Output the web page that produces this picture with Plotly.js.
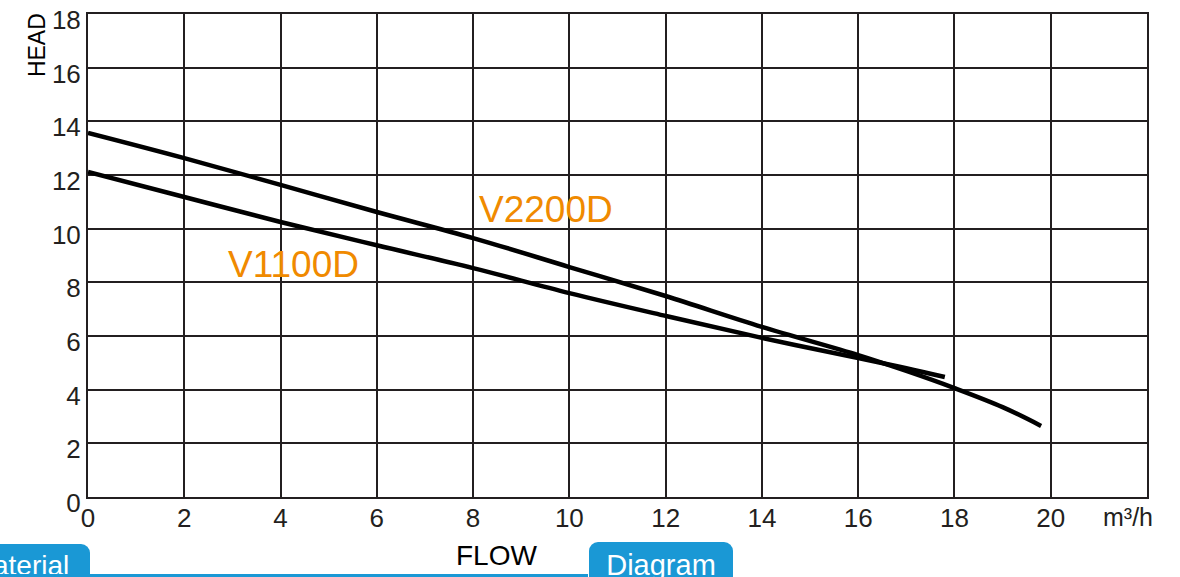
<!DOCTYPE html>
<html>
<head>
<meta charset="utf-8">
<script src="https://cdn.plot.ly/plotly-3.0.1.min.js"></script>
<style>
html,body{margin:0;padding:0;background:#fff;}
#chart{width:1180px;height:577px;position:relative;}
.tab{position:absolute;background:#1a98d5;color:#fff;font-family:"Liberation Sans",Arial,sans-serif;box-sizing:border-box;overflow:hidden;white-space:nowrap;}
</style>
</head>
<body>
<div style="position:relative;width:1180px;height:577px;overflow:hidden;">
<div id="chart"></div>
<div class="tab" style="left:-10px;top:544px;width:100px;height:40px;padding-left:3px;line-height:44px;font-size:28px;border-radius:0 9px 0 0;">aterial</div>
<div style="position:absolute;left:0;top:574px;width:588px;height:3px;background:#1a98d5;"></div>
<div class="tab" style="left:589px;top:542px;width:144px;height:40px;border-radius:9px 9px 0 0;text-align:center;line-height:46px;font-size:29px;">Diagram</div>
</div>
<script>
// V2200D curve
var flowV2200 = [0, 2, 4, 6, 8, 10, 12, 14, 16, 17, 18, 19, 19.8];
var headV2200 = [13.57, 12.63, 11.63, 10.62, 9.65, 8.57, 7.49, 6.34, 5.29, 4.7, 4.06, 3.35, 2.65];
// V1100D curve
var flowV1100 = [0, 2, 4, 6, 8, 10, 12, 14, 16, 17, 17.8];
var headV1100 = [12.11, 11.18, 10.25, 9.38, 8.53, 7.6, 6.75, 5.93, 5.18, 4.8, 4.47];
var xTicks = [0, 2, 4, 6, 8, 10, 12, 14, 16, 18, 20];
var yTicks = [0, 2, 4, 6, 8, 10, 12, 14, 16, 18];

var ink = '#231f20';
var traces = [
  {x: flowV2200, y: headV2200, mode: 'lines', line: {color: '#000', width: 4.5, shape: 'spline'}, name: 'V2200D', hoverinfo: 'skip'},
  {x: flowV1100, y: headV1100, mode: 'lines', line: {color: '#000', width: 4.5, shape: 'spline'}, name: 'V1100D', hoverinfo: 'skip'}
];
var fam = '"Liberation Sans", Arial, sans-serif';
var layout = {
  width: 1180, height: 577,
  margin: {l: 88, r: 33, t: 14, b: 80},
  paper_bgcolor: '#fff', plot_bgcolor: '#fff',
  showlegend: false,
  font: {family: fam, color: ink},
  xaxis: {
    range: [0, 22], tickvals: xTicks, ticktext: xTicks.map(String),
    showgrid: true, gridcolor: ink, gridwidth: 2,
    showline: true, linecolor: ink, linewidth: 2, mirror: true,
    zeroline: false, ticks: '', ticklen: 0,
    ticklabelstandoff: -3,
    tickfont: {family: fam, size: 26, color: ink},
    fixedrange: true
  },
  yaxis: {
    range: [0, 18], tickvals: yTicks, ticktext: yTicks.map(String),
    showgrid: true, gridcolor: ink, gridwidth: 2,
    showline: true, linecolor: ink, linewidth: 2, mirror: true,
    zeroline: false, ticks: '', ticklen: 0,
    ticklabeloverflow: 'allow',
    ticklabelshift: 6,
    tickfont: {family: fam, size: 26, color: ink},
    fixedrange: true
  },
  annotations: [
    {x: 9.52, y: 10.73, xref: 'x', yref: 'y', text: 'V2200D', showarrow: false, xanchor: 'center', yanchor: 'middle',
     font: {family: fam, size: 37, color: '#f08a00'}},
    {x: 4.26, y: 8.65, xref: 'x', yref: 'y', text: 'V1100D', showarrow: false, xanchor: 'center', yanchor: 'middle',
     font: {family: fam, size: 37, color: '#f08a00'}},
    {x: -0.048, y: 0.936, xref: 'paper', yref: 'paper', text: 'HEAD', textangle: -90, showarrow: false,
     xanchor: 'center', yanchor: 'middle', font: {family: fam, size: 23, color: '#000'}},
    {x: 0.386, y: -0.122, xref: 'paper', yref: 'paper', text: 'FLOW', showarrow: false,
     xanchor: 'center', yanchor: 'middle', font: {family: fam, size: 28, color: '#000'}},
    {x: 0.982, y: -0.041, xref: 'paper', yref: 'paper', text: 'm³/h', showarrow: false,
     xanchor: 'center', yanchor: 'middle', font: {family: fam, size: 25, color: ink}}
  ]
};
Plotly.newPlot('chart', traces, layout, {displayModeBar: false, staticPlot: true});
</script>
</body>
</html>
